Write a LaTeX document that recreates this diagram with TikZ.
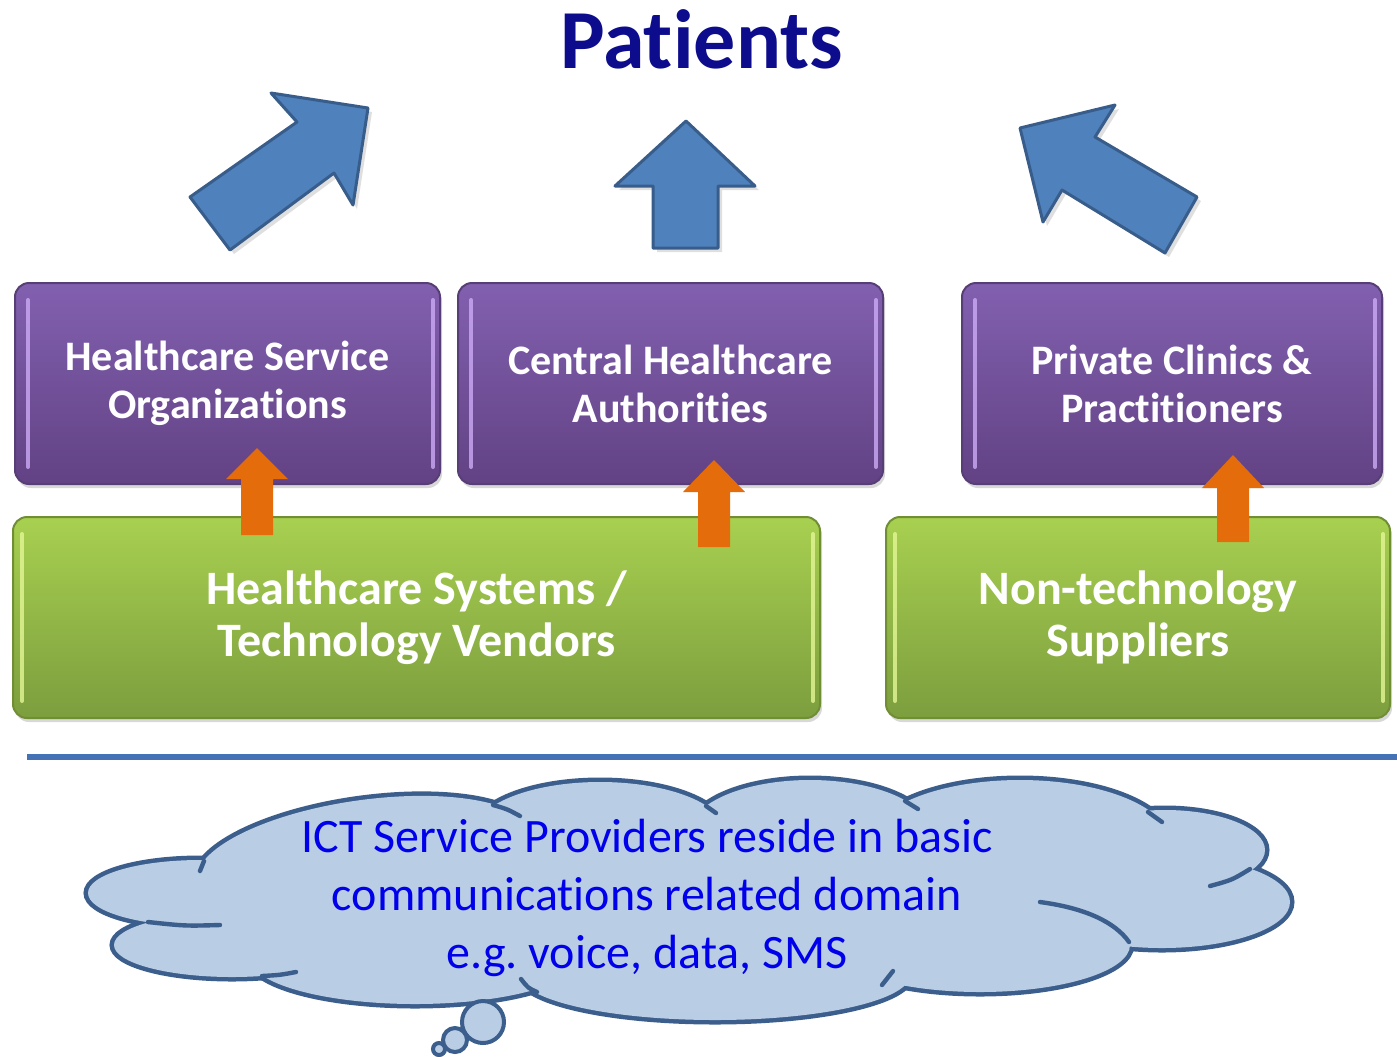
\documentclass[tikz,border=0pt]{standalone}
\usepackage{fontspec}
\setmainfont{Carlito}[RawFeature={-liga;-calt;-clig;-rlig;-dlig}]
\usetikzlibrary{shadows}

\definecolor{patientblue}{RGB}{12,12,140}
\definecolor{arrowblue}{RGB}{79,129,189}
\definecolor{arrowedge}{RGB}{56,93,138}
\definecolor{purpletop}{RGB}{130,96,176}
\definecolor{purplebot}{RGB}{98,66,132}
\definecolor{purpleedge}{RGB}{88,62,118}
\definecolor{purplelite}{RGB}{204,170,245}
\definecolor{greentop}{RGB}{168,208,80}
\definecolor{greenbot}{RGB}{124,158,62}
\definecolor{greenedge}{RGB}{112,142,52}
\definecolor{greenlite}{RGB}{228,246,150}
\definecolor{liftorange}{RGB}{228,108,10}
\definecolor{rulerblue}{RGB}{68,114,180}
\definecolor{cloudfill}{RGB}{185,205,229}
\definecolor{cloudedge}{RGB}{59,94,140}
\definecolor{ictblue}{RGB}{0,0,235}

\begin{document}
\frenchspacing
\begin{tikzpicture}
  [x=0.5pt,y=-0.5pt,
   upbox/.style={draw=purpleedge,line width=1pt,rounded corners=7pt,
     top color=purpletop,bottom color=purplebot,minimum height=100.5pt,
     text=white,align=center,font=\fontsize{21}{24}\selectfont\bfseries,
     drop shadow={opacity=0.3,shadow xshift=1pt,shadow yshift=-2pt}},
   lowbox/.style={draw=greenedge,line width=1pt,rounded corners=7pt,
     top color=greentop,bottom color=greenbot,minimum height=100.5pt,
     text=white,align=center,font=\fontsize{24}{26}\selectfont\bfseries,
     drop shadow={opacity=0.3,shadow xshift=1pt,shadow yshift=-2pt}},
   purplehi/.style={draw=purplelite,line width=2pt,opacity=0.8,line cap=round},
   greenhi/.style={draw=greenlite,line width=2pt,opacity=0.8,line cap=round},
   bluearrow/.style={fill=arrowblue,draw=arrowedge,line width=1.5pt,line join=round,
     drop shadow={opacity=0.25,shadow xshift=2pt,shadow yshift=-2pt}},
   liftarrow/.style={fill=liftorange},
   ruler/.style={draw=rulerblue,line width=3pt},
   cloudline/.style={draw=cloudedge,line width=2.2pt,line cap=round},
   bubble/.style={fill=cloudfill,draw=cloudedge,line width=2pt},
   ictnote/.style={text=ictblue,align=center,font=\fontsize{24}{29}\selectfont}]

  \path[fill=white,use as bounding box] (0,0) rectangle (1397,1056);

  \node (pat) [anchor=base,text=patientblue,font=\fontsize{42}{48}\selectfont\bfseries]
    at (701.5,68) {Patients};

  \filldraw[bluearrow] (368,108) -- (353,205) -- (334,173) -- (230,250)
    -- (190,197) -- (297,122) -- (271,93) -- cycle;
  \filldraw[bluearrow] (686,121) -- (755,186) -- (718,186) -- (718,248)
    -- (653,248) -- (653,186) -- (615,186) -- cycle;
  \filldraw[bluearrow] (1020,128) -- (1115,105) -- (1095,137) -- (1197,197)
    -- (1165,253) -- (1062,190) -- (1043,222) -- cycle;

  \node (hso) [upbox,minimum width=212.5pt] at (227.5,383.5)
    {Healthcare Service\\Organizations};
  \node (cha) [upbox,minimum width=212.5pt] at (670.5,383.5)
    {Central Healthcare\\Authorities};
  \node (pcp) [upbox,minimum width=210pt] at (1172,383.5)
    {Private Clinics \&\\Practitioners};

  \node (hsv) [lowbox,minimum width=403.5pt] at (416.5,617.5)
    {Healthcare Systems /\\Technology Vendors};
  \node (nts) [lowbox,minimum width=252pt] at (1138,617.5)
    {Non-technology\\Suppliers};

  \foreach \b in {hso,cha,pcp} {
    \draw[purplehi] ([xshift=7pt,yshift=-9pt]\b.north west) -- ([xshift=7pt,yshift=9pt]\b.south west);
    \draw[purplehi] ([xshift=-4pt,yshift=-9pt]\b.north east) -- ([xshift=-4pt,yshift=9pt]\b.south east);
  }
  \foreach \b in {hsv,nts} {
    \draw[greenhi] ([xshift=5pt,yshift=-9pt]\b.north west) -- ([xshift=5pt,yshift=9pt]\b.south west);
    \draw[greenhi] ([xshift=-4pt,yshift=-9pt]\b.north east) -- ([xshift=-4pt,yshift=9pt]\b.south east);
  }

  \fill[liftarrow] (257,448) -- (288,479) -- (273,479) -- (273,535)
    -- (241,535) -- (241,479) -- (226,479) -- cycle;
  \fill[liftarrow] (714,460) -- (745,492) -- (730,492) -- (730,547)
    -- (698,547) -- (698,492) -- (683,492) -- cycle;
  \fill[liftarrow] (1233,455) -- (1264,488) -- (1249,488) -- (1249,542)
    -- (1217,542) -- (1217,488) -- (1202,488) -- cycle;

  \coordinate (rl) at (27,757);
  \coordinate (rr) at (1397,757);
  \draw[ruler] (rl) -- (rr);

  \foreach \cx/\cy/\rx/\ry/\rot in {200/893/112/33/0,232/945/118/32/0,365/858/170/58/8,
      600/832/125/50/0,810/832/120/52/0,1020/842/150/62/0,1165/850/100/40/0,
      1162/902/128/46/0,980/945/150/47/0,715/975/195/45/0,415/958/165/46/0}
    \draw[cloudedge,line width=4.5pt,rotate around={\rot:(\cx,\cy)}]
      (\cx,\cy) ellipse [x radius=\rx*0.5pt,y radius=\ry*0.5pt];
  \foreach \cx/\cy/\rx/\ry/\rot in {200/893/112/33/0,232/945/118/32/0,365/858/170/58/8,
      600/832/125/50/0,810/832/120/52/0,1020/842/150/62/0,1165/850/100/40/0,
      1162/902/128/46/0,980/945/150/47/0,715/975/195/45/0,415/958/165/46/0,
      690/895/420/75/0}
    \fill[cloudfill,rotate around={\rot:(\cx,\cy)}]
      (\cx,\cy) ellipse [x radius=\rx*0.5pt,y radius=\ry*0.5pt];

  \draw[cloudline] (493,805) .. controls (507,809) .. (520,816);
  \draw[cloudline] (706,806) -- (716,813);
  \draw[cloudline] (905,801) -- (918,809);
  \draw[cloudline] (1148,812) -- (1162,822);
  \draw[cloudline] (1250,869) .. controls (1232,880) .. (1210,886);
  \draw[cloudline] (1040,902) .. controls (1085,908) and (1115,922) .. (1129,942);
  \draw[cloudline] (882,985) -- (893,971);
  \draw[cloudline] (537,992) .. controls (528,988) .. (521,979);
  \draw[cloudline] (262,976) .. controls (280,975) .. (296,972);
  \draw[cloudline] (148,922) .. controls (185,926) .. (220,925);
  \draw[cloudline] (204,861) -- (200,871);

  \filldraw[bubble] (483,1022) circle [radius=10.5pt];
  \filldraw[bubble] (455,1040) circle [radius=6pt];
  \filldraw[bubble] (439,1049) circle [radius=3pt];

  \node (ict) [ictnote] at (647,898)
    {ICT Service Providers reside in basic\\communications related domain\\e.g. voice, data, SMS};
\end{tikzpicture}
\end{document}
